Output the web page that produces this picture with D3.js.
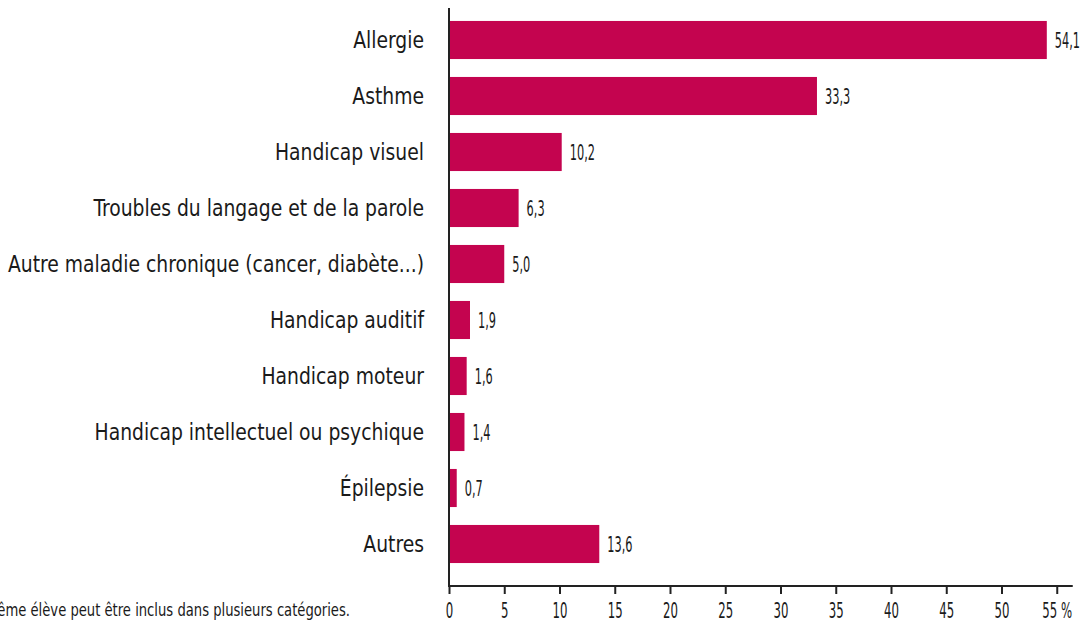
<!DOCTYPE html>
<html>
<head>
<meta charset="utf-8">
<script src="https://cdn.jsdelivr.net/npm/d3@7"></script>
<style>
  body { margin: 0; background: #fff; }
  svg text { font-family: "DejaVu Sans Condensed", "DejaVu Sans", sans-serif; fill: #1a1a1a; }
</style>
</head>
<body>
<div class="canvas"></div>
<script>
const categories = [
  'Allergie', 'Asthme', 'Handicap visuel', 'Troubles du langage et de la parole',
  'Autre maladie chronique (cancer, diabète...)', 'Handicap auditif', 'Handicap moteur',
  'Handicap intellectuel ou psychique', 'Épilepsie', 'Autres'
];
const values = [54.1, 33.3, 10.2, 6.3, 5.0, 1.9, 1.6, 1.4, 0.7, 13.6];
const ticks = [0, 5, 10, 15, 20, 25, 30, 35, 40, 45, 50, 55];
const note = 'Un même élève peut être inclus dans plusieurs catégories.';

const dims = { width: 1084, height: 626 };
const margin = { left: 449, top: 12 };
const barColor = '#c4044f';

const svg = d3.select('.canvas')
  .append('svg')
  .attr('width', dims.width)
  .attr('height', dims.height);

// squeeze text horizontally (the original font is a narrow DIN-like face)
const squeeze = (sel, k) => sel.each(function() {
  const w = this.getComputedTextLength();
  d3.select(this).attr('textLength', w * k).attr('lengthAdjust', 'spacingAndGlyphs');
});

const x = d3.scaleLinear()
  .domain([0, 55])
  .range([margin.left, margin.left + 55 * 11.05]);

const y = d3.scaleBand()
  .domain(categories)
  .range([margin.top, margin.top + 560])
  .paddingInner(0.32)
  .paddingOuter(0.16);

const data = categories.map((c, i) => ({ name: c, value: values[i] }));

// bars
svg.append('g').selectAll('rect')
  .data(data)
  .enter().append('rect')
  .attr('x', x(0))
  .attr('y', d => y(d.name))
  .attr('width', d => x(d.value) - x(0))
  .attr('height', y.bandwidth())
  .attr('fill', barColor);

// value labels
const fmt = v => d3.format('.1f')(v).replace('.', ',');
svg.append('g').selectAll('text')
  .data(data)
  .enter().append('text')
  .attr('x', d => x(d.value) + 8)
  .attr('y', d => y(d.name) + y.bandwidth() / 2)
  .attr('dy', '0.36em')
  .attr('font-size', 21)
  .text(d => fmt(d.value))
  .call(squeeze, 0.6);

// category labels
const catLabels = svg.append('g').selectAll('text')
  .data(data)
  .enter().append('text')
  .attr('x', x(0) - 25)
  .attr('y', d => y(d.name) + y.bandwidth() / 2)
  .attr('dy', '0.36em')
  .attr('text-anchor', 'end')
  .attr('font-size', 23)
  .text(d => d.name);
const longest = d3.max(catLabels.nodes(), n => n.getComputedTextLength());
catLabels.call(squeeze, 416 / longest);

// axes
const axisY = 586;
svg.append('line')
  .attr('x1', x(0)).attr('x2', x(0))
  .attr('y1', 8).attr('y2', axisY)
  .attr('stroke', '#222').attr('stroke-width', 2);

svg.append('line')
  .attr('x1', x(0) - 1).attr('x2', x(55) + 16)
  .attr('y1', axisY).attr('y2', axisY)
  .attr('stroke', '#222').attr('stroke-width', 2);

const xAxis = d3.axisBottom(x)
  .tickValues(ticks)
  .tickSize(8)
  .tickPadding(9)
  .tickFormat(d => d === 55 ? '55 %' : d);

const gx = svg.append('g')
  .attr('transform', `translate(0, ${axisY})`)
  .call(xAxis);
gx.select('.domain').remove();
gx.selectAll('.tick line').attr('stroke', '#222').attr('stroke-width', 2);
gx.selectAll('.tick text')
  .attr('font-size', 21)
  .attr('font-family', '"DejaVu Sans Condensed", "DejaVu Sans", sans-serif')
  .attr('fill', '#1a1a1a')
  .call(squeeze, 0.62);

// footnote (cut at the left edge, as in the source)
svg.append('text')
  .attr('x', 350)
  .attr('y', 616)
  .attr('text-anchor', 'end')
  .attr('font-size', 17)
  .text(note)
  .call(squeeze, 0.86);
</script>
</body>
</html>
